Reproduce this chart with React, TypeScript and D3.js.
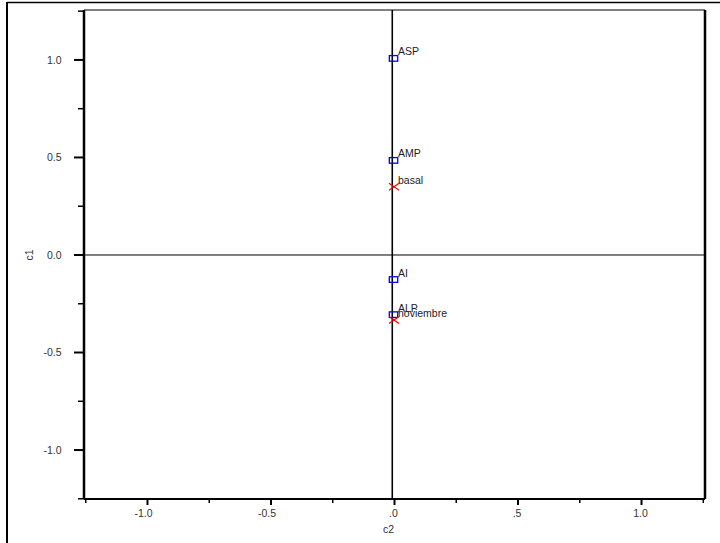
import React from "react";
import * as d3 from "d3";

const squareLabels = ["ASP", "AMP", "AI", "ALP"];
const squareC1 = [1.008, 0.485, -0.126, -0.306];
const squareC2 = [-0.004, -0.004, -0.004, -0.004];

const crossLabels = ["basal", "noviembre"];
const crossC1 = [0.35, -0.333];
const crossC2 = [-0.002, -0.002];

const majorTicks = [-1.0, -0.5, 0, 0.5, 1.0];
const minorTicks = [-1.25, -0.75, -0.25, 0.25, 0.75, 1.25];
const yTickLabels = ["-1.0", "-0.5", "0.0", "0.5", "1.0"];
const xTickLabels = ["-1.0", "-0.5", ".0", ".5", "1.0"];
const refLineC2 = -0.009;
const refLineC1 = 0;

const W = 720;
const H = 543;
const left = 84;
const right = 705;
const top = 10;
const bottom = 499;

export default function App() {
  const x = d3.scaleLinear().domain([-1.257, 1.257]).range([left, right]);
  const y = d3.scaleLinear().domain([-1.251, 1.256]).range([bottom, top]);
  const font = "Liberation Sans, Arial, sans-serif";
  const textColor = "#333";
  const fs = 10.5;

  return (
    <svg
      width={W}
      height={H}
      style={{ position: "absolute", left: 0, top: 0, background: "#fff" }}
    >
      <rect x={0} y={0} width={W} height={H} fill="#fff" />
      {/* outer frame */}
      <line x1={7} x2={W} y1={2.5} y2={2.5} stroke="#000" strokeWidth={1.5} />
      <line x1={7} x2={7} y1={2} y2={H} stroke="#000" strokeWidth={2} />

      {/* plot frame */}
      <line x1={left} x2={right} y1={top} y2={top} stroke="#000" strokeWidth={1} />
      <line x1={right} x2={right} y1={top} y2={bottom} stroke="#000" strokeWidth={2.5} />

      {/* reference lines */}
      <line
        x1={x(refLineC2)}
        x2={x(refLineC2)}
        y1={top}
        y2={bottom}
        stroke="#000"
        strokeWidth={1.6}
      />
      <line
        x1={left}
        x2={right}
        y1={y(refLineC1)}
        y2={y(refLineC1)}
        stroke="#000"
        strokeWidth={1}
      />

      {/* y axis */}
      <line x1={left} x2={left} y1={top} y2={bottom} stroke="#000" strokeWidth={2.5} />
      {majorTicks.map((t) => (
        <line key={"ym" + t} x1={left - 10} x2={left} y1={y(t)} y2={y(t)} stroke="#000" strokeWidth={2} />
      ))}
      {minorTicks.map((t) => (
        <line key={"yn" + t} x1={left - 6} x2={left} y1={y(t)} y2={y(t)} stroke="#000" strokeWidth={1.5} />
      ))}
      {majorTicks.map((t, i) => (
        <text
          key={"yl" + t}
          x={61.5}
          y={y(t)}
          dy="0.35em"
          textAnchor="end"
          fontFamily={font}
          fontSize={fs}
          fill={textColor}
        >
          {yTickLabels[i]}
        </text>
      ))}
      <text
        transform={`translate(33,${y(0)}) rotate(-90)`}
        textAnchor="middle"
        fontFamily={font}
        fontSize={fs}
        fill={textColor}
      >
        c1
      </text>

      {/* x axis */}
      <line x1={left} x2={right} y1={bottom} y2={bottom} stroke="#000" strokeWidth={2} />
      {majorTicks.map((t) => (
        <line key={"xm" + t} x1={x(t)} x2={x(t)} y1={bottom} y2={bottom + 6} stroke="#000" strokeWidth={2} />
      ))}
      {minorTicks.map((t) => (
        <line key={"xn" + t} x1={x(t)} x2={x(t)} y1={bottom} y2={bottom + 4} stroke="#000" strokeWidth={1.5} />
      ))}
      {majorTicks.map((t, i) => (
        <text
          key={"xl" + t}
          x={x(t) - (t < 0 ? 4 : 1)}
          y={517}
          textAnchor="middle"
          fontFamily={font}
          fontSize={fs}
          fill={textColor}
        >
          {xTickLabels[i]}
        </text>
      ))}
      <text x={x(0) - 6} y={533} textAnchor="middle" fontFamily={font} fontSize={fs} fill={textColor}>
        c2
      </text>

      {/* square points */}
      {squareLabels.map((lab, i) => {
        const px = x(squareC2[i]);
        const py = y(squareC1[i]);
        return (
          <g key={"s" + lab}>
            <rect x={px - 4.2} y={py - 2.8} width={8.4} height={5.6} fill="none" stroke="#0000ff" strokeWidth={1.3} />
            <text x={px + 4.5} y={py - 3} fontFamily={font} fontSize={fs} fill="#222">
              {lab}
            </text>
          </g>
        );
      })}

      {/* cross points */}
      {crossLabels.map((lab, i) => {
        const px = x(crossC2[i]);
        const py = y(crossC1[i]);
        return (
          <g key={"c" + lab}>
            <line x1={px - 5} x2={px + 5} y1={py - 3.5} y2={py + 3.5} stroke="#ff0000" strokeWidth={1.2} />
            <line x1={px - 5} x2={px + 5} y1={py + 3.5} y2={py - 3.5} stroke="#ff0000" strokeWidth={1.2} />
            <text x={px + 4} y={py - 3} fontFamily={font} fontSize={fs} fill="#222">
              {lab}
            </text>
          </g>
        );
      })}
    </svg>
  );
}
